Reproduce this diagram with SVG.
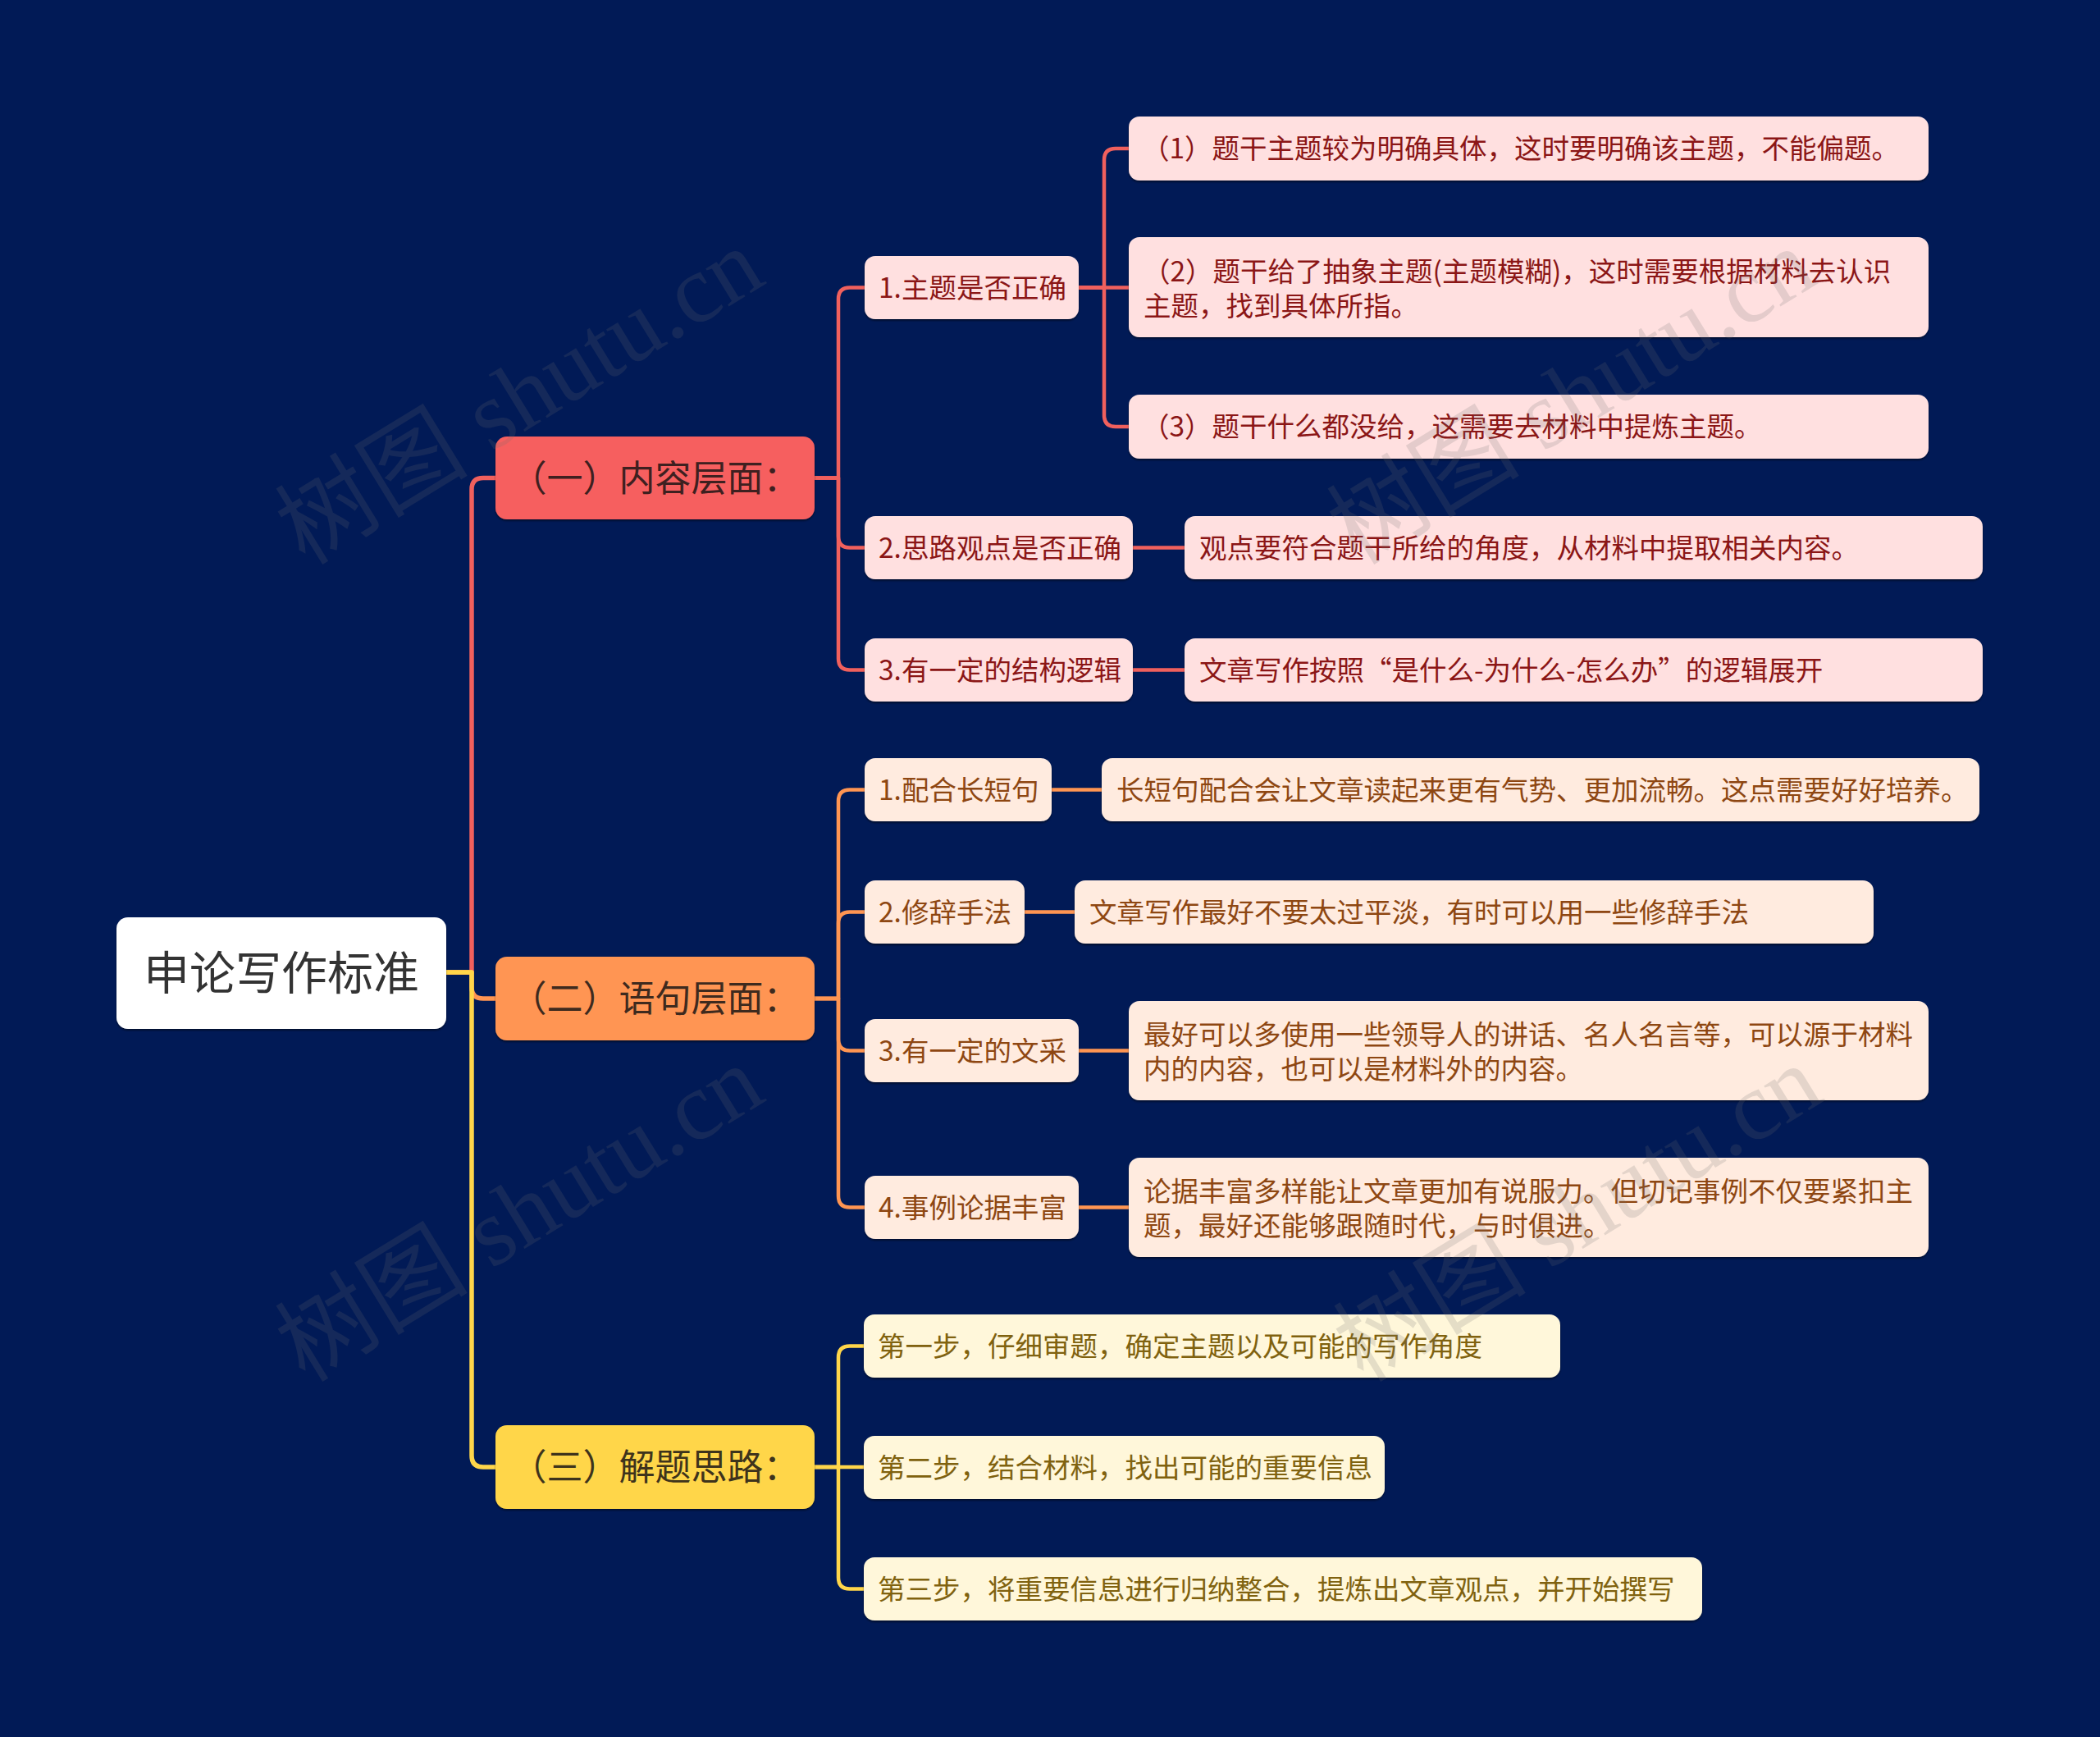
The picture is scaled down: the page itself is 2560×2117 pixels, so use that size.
<svg xmlns="http://www.w3.org/2000/svg" width="2560" height="2117" viewBox="0 0 2560 2117">
<defs>
<style>
text{font-family:"Noto Sans CJK SC","Noto Sans",sans-serif;}
.root rect{fill:#ffffff;}
.root text{font-size:56px;fill:#333333;text-anchor:middle;}
.l1 text{font-size:44px;text-anchor:middle;}
.l2 text{font-size:33.5px;}
.red rect{fill:#F65F5E;} .red text{fill:#3E2020;}
.org rect{fill:#FF9552;} .org text{fill:#3E2A1E;}
.yel rect{fill:#FFD64A;} .yel text{fill:#3E331C;}
.pink rect{fill:#FFE0E0;} .pink text{fill:#8B1616;}
.peach rect{fill:#FFEBDF;} .peach text{fill:#8E4712;}
.cream rect{fill:#FFF7DA;} .cream text{fill:#80620F;}
.c{fill:none;stroke-linecap:round;stroke-linejoin:round;}
.cr{stroke:#F0605D;} .co{stroke:#FF9552;} .cy{stroke:#FFD64A;}
.w1{stroke-width:5.5;} .w2{stroke-width:4.5;}
.wm{font-family:"Liberation Serif","Noto Sans CJK SC",serif;font-size:118px;fill:#6e6e6e;opacity:0.18;}
</style>
<filter id="sh" x="-5%" y="-10%" width="110%" height="130%">
<feDropShadow dx="0" dy="2" stdDeviation="1.2" flood-color="#000000" flood-opacity="0.45"/>
</filter>
</defs>
<rect width="2560" height="2117" fill="#011A56"/>

<g id="connectors">
<path class="c cr w1" d="M544 1185 H575 V596.5 Q575 582.5 589 582.5 H604"/>
<path class="c co w1" d="M544 1185 H575 V1203 Q575 1217 589 1217 H604"/>
<path class="c cy w1" d="M544 1185 H575 V1774 Q575 1788 589 1788 H604"/>

<path class="c cr w2" d="M993 582.5 H1022 V364.5 Q1022 350.5 1036 350.5 H1054"/>
<path class="c cr w2" d="M993 582.5 H1022 V653.5 Q1022 667.5 1036 667.5 H1054"/>
<path class="c cr w2" d="M993 582.5 H1022 V802.5 Q1022 816.5 1036 816.5 H1054"/>

<path class="c co w2" d="M993 1217 H1022 V976.5 Q1022 962.5 1036 962.5 H1054"/>
<path class="c co w2" d="M993 1217 H1022 V1125.5 Q1022 1111.5 1036 1111.5 H1054"/>
<path class="c co w2" d="M993 1217 H1022 V1266.5 Q1022 1280.5 1036 1280.5 H1054"/>
<path class="c co w2" d="M993 1217 H1022 V1457.5 Q1022 1471.5 1036 1471.5 H1054"/>

<path class="c cy w2" d="M993 1788 H1022 V1654.5 Q1022 1640.5 1036 1640.5 H1053"/>
<path class="c cy w2" d="M993 1788 H1053"/>
<path class="c cy w2" d="M993 1788 H1022 V1922.5 Q1022 1936.5 1036 1936.5 H1053"/>

<path class="c cr w2" d="M1315 350.5 H1346 V195 Q1346 181 1360 181 H1376"/>
<path class="c cr w2" d="M1315 350.5 H1376"/>
<path class="c cr w2" d="M1315 350.5 H1346 V506 Q1346 520 1360 520 H1376"/>
<path class="c cr w2" d="M1381 667.5 H1444"/>
<path class="c cr w2" d="M1381 816.5 H1444"/>

<path class="c co w2" d="M1282 962.5 H1343"/>
<path class="c co w2" d="M1249 1111.5 H1310"/>
<path class="c co w2" d="M1315 1280.5 H1376"/>
<path class="c co w2" d="M1315 1471.5 H1376"/>
</g>

<g id="root" class="root"><rect x="142" y="1118" width="402" height="136" rx="14" filter="url(#sh)"/><text x="343" y="1206">申论写作标准</text></g>

<g id="n1" class="l1 red"><rect x="604" y="532" width="389" height="101" rx="14" filter="url(#sh)"/><text x="798.5" y="599">（一）内容层面：</text></g>
<g id="n2" class="l1 org"><rect x="604" y="1166" width="389" height="102" rx="14" filter="url(#sh)"/><text x="798.5" y="1233">（二）语句层面：</text></g>
<g id="n3" class="l1 yel"><rect x="604" y="1737" width="389" height="102" rx="14" filter="url(#sh)"/><text x="798.5" y="1804">（三）解题思路：</text></g>

<g id="n1-1" class="l2 pink"><rect x="1054" y="312" width="261" height="77" rx="13" filter="url(#sh)"/><text x="1071" y="363">1.主题是否正确</text></g>
<g id="n1-1-1" class="l2 pink"><rect x="1376" y="142" width="975" height="78" rx="13" filter="url(#sh)"/><text x="1392" y="193">（1）题干主题较为明确具体，这时要明确该主题，不能偏题。</text></g>
<g id="n1-1-2" class="l2 pink"><rect x="1376" y="289" width="975" height="122" rx="13" filter="url(#sh)"/><text x="1393" y="343">（2）题干给了抽象主题(主题模糊)，这时需要根据材料去认识</text><text x="1394" y="385">主题，找到具体所指。</text></g>
<g id="n1-1-3" class="l2 pink"><rect x="1376" y="481" width="975" height="78" rx="13" filter="url(#sh)"/><text x="1392" y="532">（3）题干什么都没给，这需要去材料中提炼主题。</text></g>
<g id="n1-2" class="l2 pink"><rect x="1054" y="629" width="327" height="77" rx="13" filter="url(#sh)"/><text x="1071" y="680">2.思路观点是否正确</text></g>
<g id="n1-2-1" class="l2 pink"><rect x="1444" y="629" width="973" height="77" rx="13" filter="url(#sh)"/><text x="1462" y="680">观点要符合题干所给的角度，从材料中提取相关内容。</text></g>
<g id="n1-3" class="l2 pink"><rect x="1054" y="778" width="327" height="77" rx="13" filter="url(#sh)"/><text x="1071" y="829">3.有一定的结构逻辑</text></g>
<g id="n1-3-1" class="l2 pink"><rect x="1444" y="778" width="973" height="77" rx="13" filter="url(#sh)"/><text x="1462" y="829">文章写作按照“是什么-为什么-怎么办”的逻辑展开</text></g>

<g id="n2-1" class="l2 peach"><rect x="1054" y="924" width="228" height="77" rx="13" filter="url(#sh)"/><text x="1071" y="975">1.配合长短句</text></g>
<g id="n2-1-1" class="l2 peach"><rect x="1343" y="924" width="1070" height="77" rx="13" filter="url(#sh)"/><text x="1361" y="975">长短句配合会让文章读起来更有气势、更加流畅。这点需要好好培养。</text></g>
<g id="n2-2" class="l2 peach"><rect x="1054" y="1073" width="195" height="77" rx="13" filter="url(#sh)"/><text x="1071" y="1124">2.修辞手法</text></g>
<g id="n2-2-1" class="l2 peach"><rect x="1310" y="1073" width="974" height="77" rx="13" filter="url(#sh)"/><text x="1328" y="1124">文章写作最好不要太过平淡，有时可以用一些修辞手法</text></g>
<g id="n2-3" class="l2 peach"><rect x="1054" y="1242" width="261" height="77" rx="13" filter="url(#sh)"/><text x="1071" y="1293">3.有一定的文采</text></g>
<g id="n2-3-1" class="l2 peach"><rect x="1376" y="1220" width="975" height="121" rx="13" filter="url(#sh)"/><text x="1394" y="1273">最好可以多使用一些领导人的讲话、名人名言等，可以源于材料</text><text x="1394" y="1315">内的内容，也可以是材料外的内容。</text></g>
<g id="n2-4" class="l2 peach"><rect x="1054" y="1433" width="261" height="77" rx="13" filter="url(#sh)"/><text x="1071" y="1484">4.事例论据丰富</text></g>
<g id="n2-4-1" class="l2 peach"><rect x="1376" y="1411" width="975" height="121" rx="13" filter="url(#sh)"/><text x="1394" y="1464">论据丰富多样能让文章更加有说服力。但切记事例不仅要紧扣主</text><text x="1394" y="1506">题，最好还能够跟随时代，与时俱进。</text></g>

<g id="n3-1" class="l2 cream"><rect x="1053" y="1602" width="849" height="77" rx="13" filter="url(#sh)"/><text x="1070" y="1653">第一步，仔细审题，确定主题以及可能的写作角度</text></g>
<g id="n3-2" class="l2 cream"><rect x="1053" y="1750" width="635" height="77" rx="13" filter="url(#sh)"/><text x="1070" y="1801">第二步，结合材料，找出可能的重要信息</text></g>
<g id="n3-3" class="l2 cream"><rect x="1053" y="1898" width="1022" height="77" rx="13" filter="url(#sh)"/><text x="1070" y="1949">第三步，将重要信息进行归纳整合，提炼出文章观点，并开始撰写</text></g>

<g id="watermarks">
<text class="wm" transform="translate(372 690) rotate(-31.5)">树图 shutu.cn</text>
<text class="wm" transform="translate(1654 690) rotate(-31.5)">树图 shutu.cn</text>
<text class="wm" transform="translate(372 1686) rotate(-31.5)">树图 shutu.cn</text>
<text class="wm" transform="translate(1662 1686) rotate(-31.5)">树图 shutu.cn</text>
</g>
</svg>
